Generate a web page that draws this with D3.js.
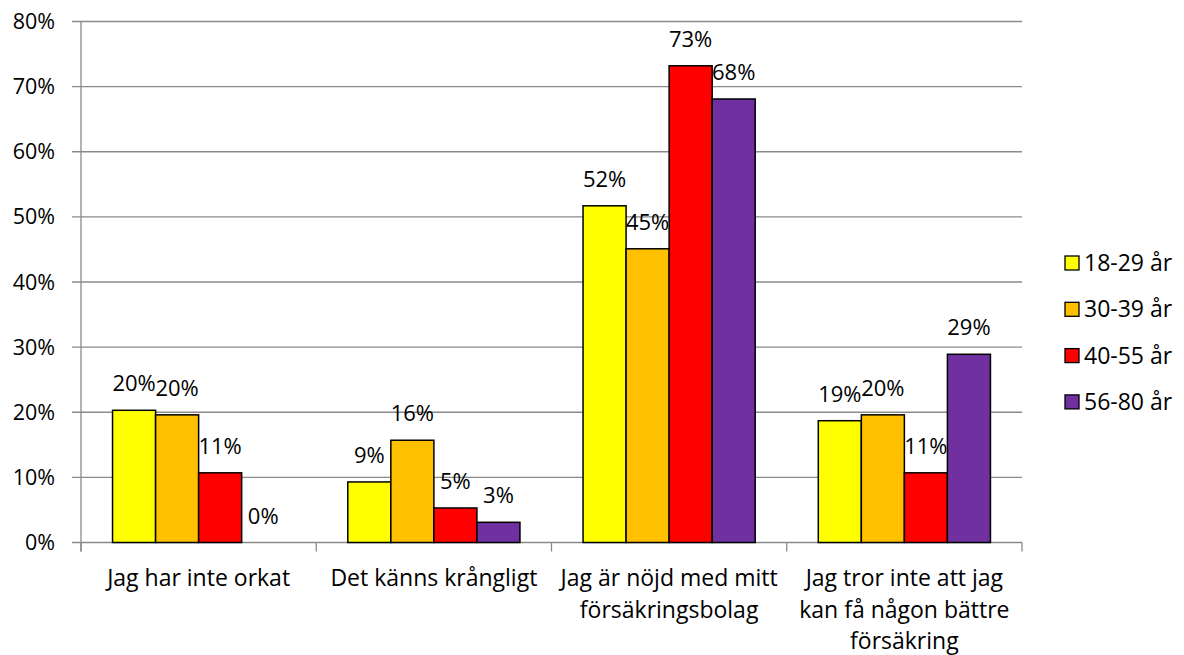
<!DOCTYPE html>
<html>
<head>
<meta charset="utf-8">
<script src="https://cdn.jsdelivr.net/npm/d3@7"></script>
<style>
  body { margin: 0; background: #fff; }
  svg text { font-family: "Open Sans", sans-serif; fill: #000; }
  .grid line { stroke: #8a8a8a; stroke-width: 1.3; }
  .bar { stroke: #000; stroke-width: 1.5; }
</style>
</head>
<body>
<div id="chart"></div>
<script>
'use strict'
// data
const categories = [
  ["Jag har inte orkat"],
  ["Det känns krångligt"],
  ["Jag är nöjd med mitt", "försäkringsbolag"],
  ["Jag tror inte att jag", "kan få någon bättre", "försäkring"]
]
const seriesNames = ["18-29 år", "30-39 år", "40-55 år", "56-80 år"]
const seriesColors = ["#ffff00", "#ffc000", "#ff0000", "#7030a0"]
const v1829 = [20.3, 9.3, 51.7, 18.7]
const v3039 = [19.6, 15.7, 45.1, 19.6]
const v4055 = [10.7, 5.3, 73.2, 10.7]
const v5680 = [0, 3.1, 68.1, 28.9]
const yTicks = [0, 10, 20, 30, 40, 50, 60, 70, 80]

const values = [v1829, v3039, v4055, v5680]

let w = 1184, h = 655
let margin = {left: 81, right: 162, top: 21.5, bottom: 112.5}

let svg = d3.select('#chart').append('svg')
  .attr('width', w).attr('height', h)

let x0 = d3.scaleBand()
  .domain(d3.range(categories.length))
  .range([margin.left, w - margin.right])
  .padding(0)

let x1 = d3.scaleBand()
  .domain(d3.range(seriesNames.length))
  .range([0, x0.bandwidth()])
  .paddingInner(0)
  .paddingOuter(0.733)

let y = d3.scaleLinear()
  .domain([0, 80])
  .range([h - margin.bottom, margin.top])

// gridlines + ticks on the left
let grid = svg.append('g').attr('class', 'grid')
grid.selectAll('line')
  .data(yTicks)
  .enter().append('line')
  .attr('x1', margin.left - 9)
  .attr('x2', w - margin.right)
  .attr('y1', d => y(d))
  .attr('y2', d => y(d))

svg.append('g').selectAll('text')
  .data(yTicks)
  .enter().append('text')
  .attr('x', 55)
  .attr('y', d => y(d))
  .attr('dy', '0.35em')
  .attr('text-anchor', 'end')
  .style('font-size', '21.5px')
  .text(d => d + '%')

// vertical axis line
grid.append('line')
  .attr('x1', margin.left).attr('x2', margin.left)
  .attr('y1', y(80)).attr('y2', y(0) + 9)

// category separators
grid.selectAll('.sep')
  .data(d3.range(categories.length + 1))
  .enter().append('line')
  .attr('class', 'sep')
  .attr('x1', d => margin.left + d * x0.step())
  .attr('x2', d => margin.left + d * x0.step())
  .attr('y1', y(0))
  .attr('y2', y(0) + 9)

// bars
let groups = svg.append('g').selectAll('g')
  .data(categories)
  .enter().append('g')
  .attr('transform', (d, i) => 'translate(' + x0(i) + ',0)')

groups.each(function(c, ci) {
  let g = d3.select(this)
  seriesNames.forEach(function(s, si) {
    let v = values[si][ci]
    g.append('rect')
      .attr('class', 'bar')
      .attr('x', x1(si))
      .attr('y', y(v))
      .attr('width', x1.bandwidth())
      .attr('height', y(0) - y(v))
      .attr('fill', seriesColors[si])
  })
  seriesNames.forEach(function(s, si) {
    let v = values[si][ci]
    g.append('text')
      .attr('x', x1(si) + x1.bandwidth() / 2)
      .attr('y', y(v) - 19)
      .attr('text-anchor', 'middle')
      .style('font-size', '22px')
      .text(Math.round(v) + '%')
  })
})

// category labels
groups.append('text')
  .attr('text-anchor', 'middle')
  .style('font-size', '23px')
  .selectAll('tspan')
  .data(d => d)
  .enter().append('tspan')
  .attr('x', x0.bandwidth() / 2)
  .attr('y', (d, i) => 586 + i * 31.5)
  .text(d => d)

// legend
let legend = svg.append('g').selectAll('g')
  .data(seriesNames)
  .enter().append('g')
  .attr('transform', (d, i) => 'translate(1065,' + (263 + i * 46.3) + ')')

legend.append('rect')
  .attr('x', 0).attr('y', -7)
  .attr('width', 14).attr('height', 14)
  .attr('fill', (d, i) => seriesColors[i])
  .attr('stroke', '#000').attr('stroke-width', 1.3)

legend.append('text')
  .attr('x', 19).attr('y', 0).attr('dy', '0.35em')
  .style('font-size', '23px')
  .text(d => d)
</script>
</body>
</html>
